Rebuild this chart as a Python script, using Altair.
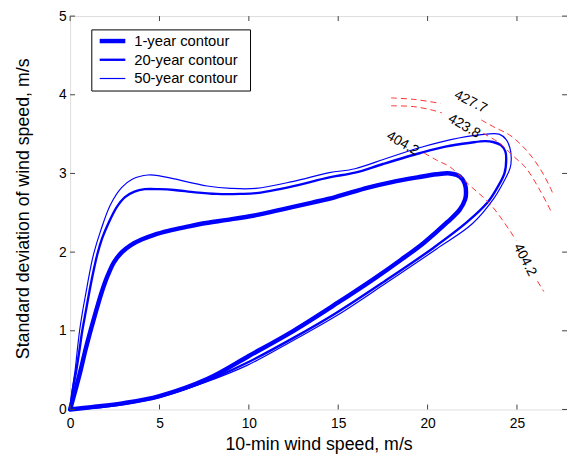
import altair as alt
import pandas as pd

FONT = "Liberation Sans"

# ---------------- data ----------------
SERIES = ["1-year contour", "20-year contour", "50-year contour"]
X_TICKS = [0, 5, 10, 15, 20, 25]
Y_TICKS = [0, 1, 2, 3, 4, 5]

# 1-year contour (closed loop from the origin, up, around, back down)
x1 = [0, 0.3, 0.59, 0.85, 1.14, 1.45, 1.78, 2.1, 2.45, 2.9, 3.4, 4.0, 4.7, 5.5, 6.5, 7.6, 8.8,
      10.4, 12.0, 13.55, 14.84, 16.67, 18.0, 19.43, 20.5, 21.27, 21.8, 22.08, 22.15, 22.1,
      21.8, 21.1, 19.8, 18.5, 17.0, 15.0, 12.5, 10.0, 7.7, 5.0, 3.0, 1.2, 0]
y1 = [0, 0.25, 0.5, 0.75, 1.0, 1.25, 1.5, 1.7, 1.87, 2.0, 2.09, 2.16, 2.22, 2.27, 2.32, 2.37, 2.41,
      2.47, 2.55, 2.63, 2.70, 2.82, 2.89, 2.95, 2.99, 3.0, 2.96, 2.87, 2.76, 2.67,
      2.54, 2.38, 2.12, 1.90, 1.66, 1.36, 1.0, 0.68, 0.39, 0.17, 0.08, 0.03, 0]

# 20-year contour
x20 = [0, 0.15, 0.35, 0.52, 0.68, 0.88, 1.08, 1.3, 1.52, 1.8, 2.15, 2.6, 3.07, 3.6, 4.17, 5.0,
       5.83, 7.0, 8.2, 9.5, 10.4, 12.5, 14.5, 15.94, 17.5, 19.6, 21.0, 22.4, 23.2, 23.66, 24.1,
       24.35, 24.4, 24.3, 23.85, 23.35, 22.2, 20.3, 17.6, 14.84, 12.5, 9.87, 7.5, 5.0, 3.0, 1.2, 0]
y20 = [0, 0.25, 0.5, 0.75, 1.0, 1.25, 1.5, 1.75, 1.97, 2.18, 2.37, 2.57, 2.70, 2.77, 2.80, 2.80,
       2.79, 2.76, 2.74, 2.74, 2.75, 2.84, 2.95, 3.01, 3.12, 3.26, 3.34, 3.39, 3.41, 3.40, 3.36,
       3.28, 3.18, 3.0, 2.8, 2.63, 2.38, 2.05, 1.63, 1.22, 0.91, 0.59, 0.35, 0.16, 0.07, 0.02, 0]

# 50-year contour
x50 = [0, 0.12, 0.28, 0.4, 0.53, 0.7, 0.9, 1.1, 1.32, 1.72, 2.25, 2.88, 3.5, 4.36, 5.0, 5.83,
       7.67, 9.0, 10.4, 12.5, 14.5, 15.94, 17.8, 19.6, 21.3, 22.9, 24.0, 24.4, 24.6, 24.68,
       24.62, 24.2, 23.7, 22.5, 20.5, 17.7, 14.9, 12.5, 9.9, 7.5, 5.0, 3.0, 1.2, 0]
y50 = [0, 0.25, 0.5, 0.75, 1.0, 1.25, 1.5, 1.75, 1.98, 2.28, 2.6, 2.82, 2.93, 2.98, 2.97, 2.93,
       2.84, 2.81, 2.81, 2.9, 3.01, 3.06, 3.2, 3.33, 3.43, 3.49, 3.50, 3.43, 3.33, 3.2,
       3.07, 2.87, 2.68, 2.36, 2.04, 1.61, 1.19, 0.88, 0.56, 0.34, 0.16, 0.07, 0.02, 0]

# red dashed iso-lines (segments split where the inline labels sit)
iso_a1_x = [17.96, 19.3, 20.72]
iso_a1_y = [3.96, 3.94, 3.89]
iso_a2_x = [23.0, 23.8, 24.58, 25.3, 25.87, 26.4, 26.8, 27.0]
iso_a2_y = [3.68, 3.58, 3.49, 3.35, 3.20, 3.02, 2.85, 2.75]
iso_b1_x = [17.96, 19.2, 20.17, 20.8]
iso_b1_y = [3.86, 3.85, 3.81, 3.77]
iso_b2_x = [23.1, 24.0, 24.8, 25.5, 26.3, 26.97]
iso_b2_y = [3.51, 3.39, 3.22, 3.07, 2.78, 2.49]
iso_c1_x = [19.8, 20.5, 21.27, 22.4, 23.5, 24.58, 24.95]
iso_c1_y = [3.26, 3.17, 3.08, 2.84, 2.61, 2.28, 2.15]
iso_c2_x = [26.15, 26.5]
iso_c2_y = [1.63, 1.50]

# inline contour labels
lab_text = ["427.7", "423.8", "404.2", "404.2"]
lab_x = [22.41, 22.05, 18.6, 25.44]
lab_y = [3.91, 3.60, 3.38, 1.90]
lab_angle = [27, 30, 30, 63]

# ---------------- tables ----------------
rows = []
for name, xs, ys in zip(SERIES, [x1, x20, x50], [y1, y20, y50]):
    for i, (a, b) in enumerate(zip(xs, ys)):
        rows.append({"series": name, "i": i, "x": a, "y": b})
contours = pd.DataFrame(rows)

iso_rows = []
for seg, (xs, ys) in enumerate([(iso_a1_x, iso_a1_y), (iso_a2_x, iso_a2_y),
                                (iso_b1_x, iso_b1_y), (iso_b2_x, iso_b2_y),
                                (iso_c1_x, iso_c1_y), (iso_c2_x, iso_c2_y)]):
    for i, (a, b) in enumerate(zip(xs, ys)):
        iso_rows.append({"seg": seg, "i": i, "x": a, "y": b})
iso = pd.DataFrame(iso_rows)

labels = pd.DataFrame({"t": lab_text, "x": lab_x, "y": lab_y, "a": lab_angle})
xt = pd.DataFrame({"v": X_TICKS})
yt = pd.DataFrame({"v": Y_TICKS})
dummy = pd.DataFrame({"d": [0]})

# ---------------- styling ----------------
W, H = 504, 399
BLUE = "#0000ff"
AXC = "#404040"
widths = [4.5, 2.4, 1.2]

xsc = alt.Scale(domain=[0, 27.8], nice=False, zero=False)
ysc = alt.Scale(domain=[0, 5], nice=False, zero=False)

x_axis = alt.Axis(title="10-min wind speed, m/s", values=X_TICKS, grid=False, ticks=False,
                  tickSize=0, domain=False, labelFontSize=14, labelPadding=7,
                  labelColor="black", labelFont=FONT, labelFlush=False,
                  titleFont=FONT, titleFontSize=18, titleFontWeight="normal",
                  titleColor="black", titleY=41, titleBaseline="alphabetic")
y_axis = alt.Axis(title="Standard deviation of wind speed, m/s", values=Y_TICKS, grid=False,
                  ticks=False, tickSize=0, domain=False, labelFontSize=14, labelPadding=4,
                  labelColor="black", labelFont=FONT, labelFlush=False,
                  titleFont=FONT, titleFontSize=18, titleFontWeight="normal",
                  titleColor="black", titleX=-47, titleY=195, titleBaseline="middle")

X = alt.X("x:Q", scale=xsc, axis=x_axis)
Y = alt.Y("y:Q", scale=ysc, axis=y_axis)

layers = []

# blue contours
for name, w in zip(SERIES, widths):
    layers.append(
        alt.Chart(contours).transform_filter(alt.datum.series == name)
        .mark_line(color=BLUE, strokeWidth=w, interpolate="catmull-rom",
                   strokeJoin="round", strokeCap="round")
        .encode(x=X, y=Y, order=alt.Order("i:Q"))
    )

# red dashed iso-lines
layers.append(
    alt.Chart(iso).mark_line(color="#ff3030", strokeWidth=1, strokeDash=[6, 4],
                             interpolate="catmull-rom")
    .encode(x=X, y=Y, detail="seg:N", order=alt.Order("i:Q"))
)

# inline labels
layers.append(
    alt.Chart(labels).mark_text(font=FONT, fontSize=14, color="black",
                                align="center", baseline="middle")
    .encode(x=X, y=Y, text="t:N", angle=alt.Angle("a:Q", scale=None))
)

# inward ticks (box style)
XV = alt.X("v:Q", scale=xsc, axis=x_axis)
YV = alt.Y("v:Q", scale=ysc, axis=y_axis)
layers.append(alt.Chart(xt).mark_rule(color=AXC, strokeWidth=1)
              .encode(x=XV, y=alt.value(H), y2=alt.value(H - 5)))
layers.append(alt.Chart(xt).mark_rule(color=AXC, strokeWidth=1)
              .encode(x=XV, y=alt.value(0), y2=alt.value(5)))
layers.append(alt.Chart(yt).mark_rule(color=AXC, strokeWidth=1)
              .encode(y=YV, x=alt.value(0), x2=alt.value(5)))
layers.append(alt.Chart(yt).mark_rule(color=AXC, strokeWidth=1)
              .encode(y=YV, x=alt.value(W), x2=alt.value(W - 5)))

# legend box
layers.append(alt.Chart(dummy).mark_rect(fill="white", stroke="black", strokeWidth=1)
              .encode(x=alt.value(22), x2=alt.value(183), y=alt.value(14), y2=alt.value(76)))
for k, (name, w) in enumerate(zip(SERIES, widths)):
    yy = 25.3 + 19 * k
    layers.append(alt.Chart(dummy).mark_rule(color=BLUE, strokeWidth=w)
                  .encode(x=alt.value(30), x2=alt.value(56), y=alt.value(yy)))
    layers.append(alt.Chart(dummy).mark_text(text=name, font=FONT, fontSize=15, color="black",
                                             align="left", baseline="middle")
                  .encode(x=alt.value(65), y=alt.value(yy)))

chart = (
    alt.layer(*layers)
    .properties(width=W, height=H,
                padding={"left": 63, "top": 5, "right": 0, "bottom": 45},
                autosize=alt.AutoSizeParams(type="none"))
    .configure_view(stroke=AXC, strokeWidth=1)
    .configure(background="white")
)

chart.save("out.html", embed_options={"renderer": "svg", "actions": False})
